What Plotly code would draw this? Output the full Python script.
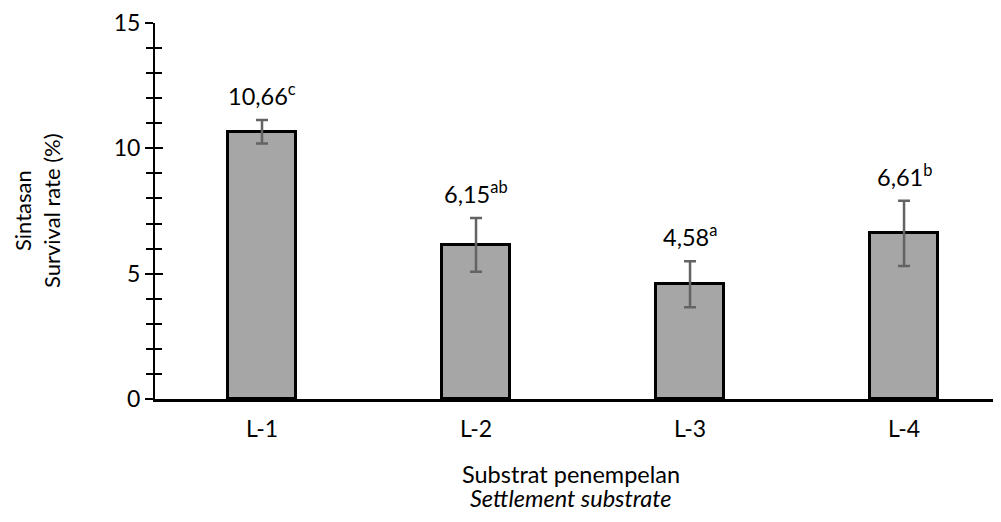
import plotly.graph_objects as go

categories = ["L-1", "L-2", "L-3", "L-4"]
survival = [10.66, 6.15, 4.58, 6.61]
errors = [0.47, 1.07, 0.92, 1.30]
letters = ["c", "ab", "a", "b"]
y_ticks = [0, 5, 10, 15]

FONT = "Lato"

fig = go.Figure()
fig.add_trace(go.Bar(
    x=categories, y=survival, width=0.32,
    marker=dict(color="#a6a6a6", line=dict(color="black", width=3)),
    error_y=dict(type="data", array=errors, visible=True,
                 color="#636363", thickness=2.5, width=6),
    showlegend=False,
))
# invisible trace for the overlay axis (inner half of the crossing ticks)
fig.add_trace(go.Scatter(x=categories, y=survival, yaxis="y2", mode="markers",
                         marker=dict(opacity=0), showlegend=False, hoverinfo="skip"))

for c, v, e, l in zip(categories, survival, errors, letters):
    fig.add_annotation(x=c, y=v + e, text=f"{v:.2f}".replace(".", ",") + f"<sup>{l}</sup>",
                       showarrow=False, yanchor="bottom", yshift=8,
                       font=dict(family=FONT, size=23.5, color="black"))

fig.add_annotation(xref="paper", yref="paper", x=0.4917, y=0, yshift=-75,
                   text="Substrat penempelan", showarrow=False, yanchor="middle",
                   borderpad=0,
                   font=dict(family=FONT, size=23.5, color="black"))
fig.add_annotation(xref="paper", yref="paper", x=0.4917, y=0, yshift=-99,
                   text="<i>Settlement substrate</i>", showarrow=False, yanchor="middle",
                   borderpad=0,
                   font=dict(family=FONT, size=23.5, color="black"))
fig.add_annotation(xref="paper", yref="paper", x=0, xshift=-133, y=0.5,
                   text="Sintasan", textangle=-90, showarrow=False,
                   xanchor="center", yanchor="middle",
                   font=dict(family=FONT, size=22, color="black"))
fig.add_annotation(xref="paper", yref="paper", x=0, xshift=-104, y=0.5,
                   text="Survival rate (%)", textangle=-90, showarrow=False,
                   xanchor="center", yanchor="middle",
                   font=dict(family=FONT, size=22, color="black"))

fig.update_layout(
    width=993, height=514,
    margin=dict(l=147, r=0, t=13, b=123),
    plot_bgcolor="white", paper_bgcolor="white",
    font=dict(family=FONT, size=23, color="black"),
    xaxis=dict(type="category", range=[-0.5, 3.453], showline=True,
               linecolor="black", linewidth=2.5, ticks="", showgrid=False,
               tickfont=dict(size=23), ticklabelstandoff=8),
    yaxis=dict(range=[0, 15], tickvals=y_ticks, showline=True, linecolor="black",
               linewidth=2, ticks="outside", ticklen=8, tickwidth=2, tickcolor="black",
               showgrid=False, zeroline=False, tickfont=dict(size=23),
               ticklabelstandoff=0, ticklabeloverflow="allow",
               minor=dict(dtick=1, ticks="outside", ticklen=7, tickwidth=1.5,
                          tickcolor="black", showgrid=False)),
    yaxis2=dict(range=[0, 15], overlaying="y", side="left", tickvals=y_ticks,
                showticklabels=False, ticks="inside", ticklen=8, tickwidth=2,
                tickcolor="black", showgrid=False, zeroline=False, showline=False,
                minor=dict(dtick=1, ticks="inside", ticklen=7, tickwidth=1.5,
                           tickcolor="black", showgrid=False)),
    bargap=0,
)

fig.write_html("out.html")
